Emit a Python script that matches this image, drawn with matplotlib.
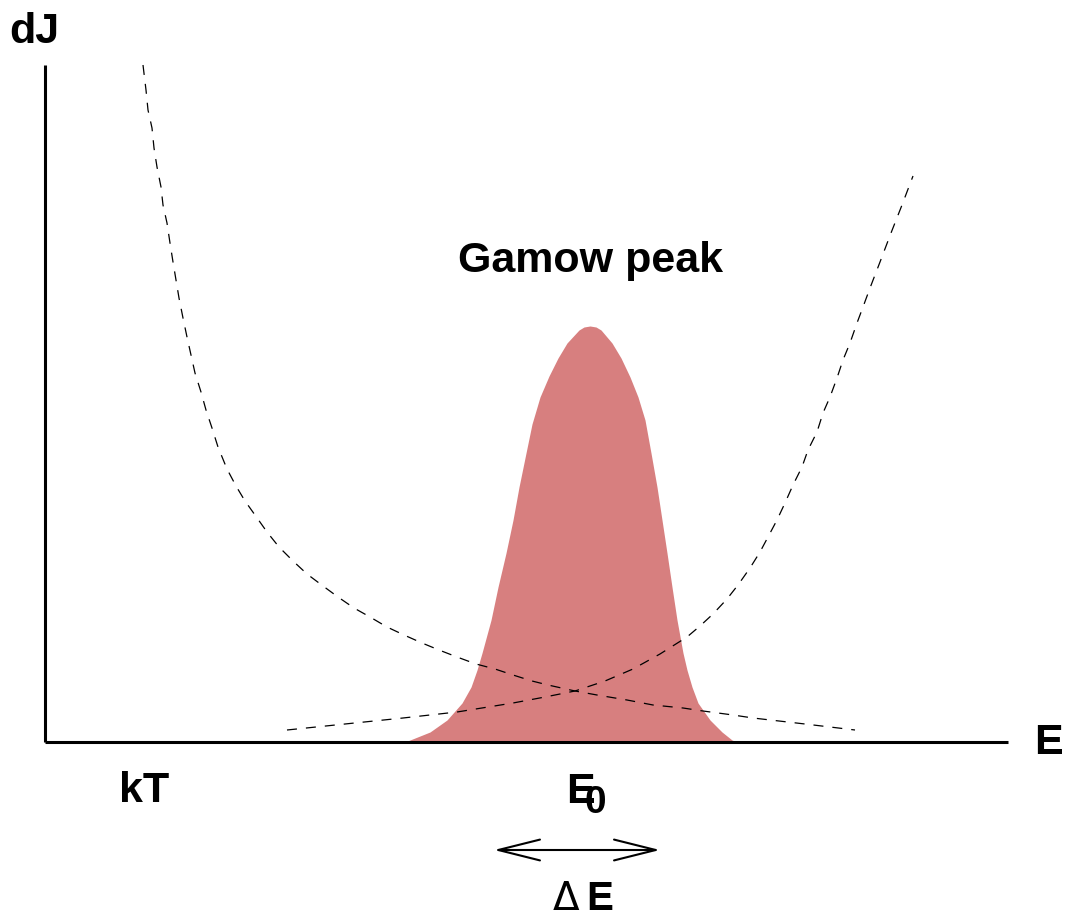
import numpy as np
import matplotlib
matplotlib.use("Agg")
import matplotlib.pyplot as plt

# energy axis in pixel-like units, dJ as height above the E axis
# Maxwell-Boltzmann tail (falling dashed curve)
mb_E = [143, 146, 148, 152, 154, 157, 161, 163, 167, 170, 173, 176, 179, 183, 187,
        191, 195, 201, 206, 212, 218, 227, 236, 245, 255, 267, 279, 293, 307, 323,
        338, 354, 370, 387, 404, 422, 439, 457, 476, 495, 513, 532, 548, 575, 597,
        627, 653, 683, 703, 733, 753, 805, 855]
mb_dJ = [677, 652, 632, 614, 594, 575, 555, 537, 519, 499, 480, 462, 444, 424, 405,
         387, 369, 350, 332, 314, 295, 273, 256, 241, 227, 210, 195, 181, 168, 156,
         145, 134, 125, 115, 107, 99, 92, 85, 78, 73, 67, 61, 57, 51, 47,
         42, 37, 34, 31, 27, 24, 18, 12]

# tunnelling probability (rising dashed curve)
tun_E = [287, 345, 403, 457, 513, 545, 575, 605, 633, 660, 687, 700, 713, 727, 738,
         750, 760, 768, 777, 785, 793, 802, 808, 817, 823, 830, 837, 843, 850, 857,
         863, 870, 880, 891, 902, 913]
tun_dJ = [12, 18, 24, 30, 39, 45, 51, 61, 73, 88, 105, 116, 128, 143, 157,
          174, 190, 205, 222, 239, 257, 275, 292, 310, 329, 345, 364, 382, 399, 419,
          435, 454, 480, 509, 537, 566]

# Gamow peak (filled)
peak_E = [405, 410, 430, 447, 462, 471, 477, 482, 491, 498, 506, 513, 519, 526, 532,
          540, 549, 558, 567, 579, 584, 590, 596, 601, 612, 621, 630, 638, 645, 651,
          657, 662, 667, 672, 677, 683, 687, 692, 698, 710, 722, 732, 737]
peak_dJ = [0, 2, 10, 22, 39, 55, 72, 89, 122, 155, 189, 222, 255, 289, 318,
           345, 366, 384, 399, 412, 415, 416, 415, 412, 399, 384, 365, 345, 322, 289,
           255, 222, 189, 155, 122, 89, 72, 55, 39, 22, 10, 2, 0]

# axis extents
E_axis = [45, 1008]
dJ_axis = [0, 677]

fnt = "Liberation Sans"

fig = plt.figure(figsize=(10.65, 9.14), dpi=100)
ax = fig.add_axes([0, 0, 1, 1])
ax.set_xlim(0, 1065)
ax.set_ylim(742 - 914, 742)
ax.axis("off")

ax.fill_between(peak_E, peak_dJ, 0, color="#d77f7f", lw=0, zorder=1)

ax.plot(mb_E, mb_dJ, color="black", lw=0.9, dashes=(8.0, 7.2), zorder=2)
ax.plot(tun_E, tun_dJ, color="black", lw=0.9, dashes=(8.0, 7.2), zorder=2)

# axes
ax.plot([E_axis[0], E_axis[0]], dJ_axis, color="black", lw=2.2, solid_capstyle="butt", zorder=3)
ax.plot(E_axis, [0, 0], color="black", lw=2.2, solid_capstyle="butt", zorder=3)

# labels
ax.text(9, 742 - 43, "dJ", fontsize=31, fontweight="bold", family=fnt)
ax.text(1034, 742 - 754, "E", fontsize=31, fontweight="bold", family=fnt)
ax.text(119, 742 - 802, "kT", fontsize=31, fontweight="bold", family=fnt)
ax.text(566, 742 - 803, "E", fontsize=31, fontweight="bold", family=fnt)
ax.text(585, 742 - 813, "0", fontsize=28, fontweight="bold", family=fnt)
ax.text(590, 742 - 272, "Gamow peak", fontsize=31, fontweight="bold",
        family=fnt, ha="center")

# delta E arrow
ax.annotate("", xy=(494, 742 - 850), xytext=(660, 742 - 850),
            arrowprops=dict(arrowstyle="<->,head_length=3.0,head_width=0.75",
                            lw=1.5, color="black", shrinkA=0, shrinkB=0))
ax.text(553, 742 - 910, "\u0394", fontsize=28, family="DejaVu Sans")
ax.text(586, 742 - 910, "E", fontsize=29, fontweight="bold", family=fnt)

fig.savefig("out.png", dpi=100)
